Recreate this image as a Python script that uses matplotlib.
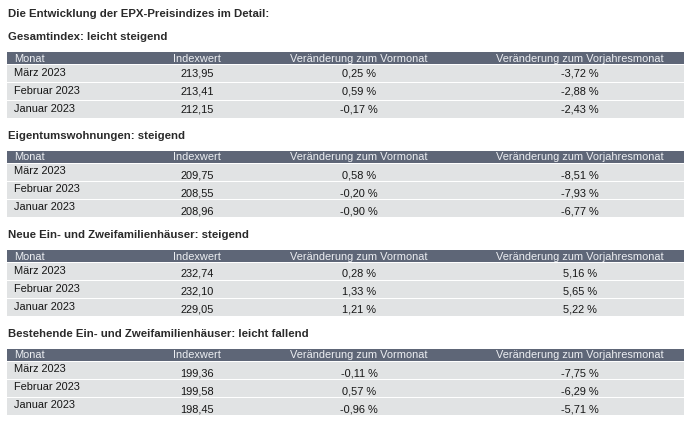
import matplotlib
matplotlib.use('Agg')
import matplotlib.pyplot as plt
from matplotlib.patches import Rectangle

plt.rcParams['font.family'] = ['Liberation Sans', 'DejaVu Sans']

TITLE = 'Die Entwicklung der EPX-Preisindizes im Detail:'
columns = ['Monat', 'Indexwert', 'Veränderung zum Vormonat', 'Veränderung zum Vorjahresmonat']
months = ['März 2023', 'Februar 2023', 'Januar 2023']

section_titles = [
    'Gesamtindex: leicht steigend',
    'Eigentumswohnungen: steigend',
    'Neue Ein- und Zweifamilienhäuser: steigend',
    'Bestehende Ein- und Zweifamilienhäuser: leicht fallend',
]
index_values = [
    ['213,95', '213,41', '212,15'],
    ['209,75', '208,55', '208,96'],
    ['232,74', '232,10', '229,05'],
    ['199,36', '199,58', '198,45'],
]
mom_change = [
    ['0,25 %', '0,59 %', '-0,17 %'],
    ['0,58 %', '-0,20 %', '-0,90 %'],
    ['0,28 %', '1,33 %', '1,21 %'],
    ['-0,11 %', '0,57 %', '-0,96 %'],
]
yoy_change = [
    ['-3,72 %', '-2,88 %', '-2,43 %'],
    ['-8,51 %', '-7,93 %', '-6,77 %'],
    ['5,16 %', '5,65 %', '5,22 %'],
    ['-7,75 %', '-6,29 %', '-5,71 %'],
]

W, H = 693, 429
HEAD_BG = '#5e6677'
ROW_BG = '#e1e3e4'
TXT = '#161616'

fig = plt.figure(figsize=(W / 100, H / 100), dpi=100)
ax = fig.add_axes([0, 0, 1, 1])
ax.set_xlim(0, W)
ax.set_ylim(H, 0)
ax.axis('off')

x0, x1 = 7, 684
col_x = [14, 197, 359, 580]
fs_b = 8.2
fs = 7.9

ax.text(8, 14, TITLE, fontsize=fs_b, fontweight='bold', color='#2a2a2a', va='center')

top0 = 37
block_h = 99
for k, name in enumerate(section_titles):
    y = top0 + k * block_h
    ax.text(8, y, name, fontsize=fs_b, fontweight='bold', color='#2a2a2a', va='center')
    hy = y + 15
    ax.add_patch(Rectangle((x0, hy), x1 - x0, 12, color=HEAD_BG, lw=0))
    for j, c in enumerate(columns):
        ax.text(col_x[j], hy + 6.5, c, fontsize=fs, color='#eceef2', va='center',
                ha='left' if j == 0 else 'center')
    ry = hy + 12
    for i in range(3):
        ax.add_patch(Rectangle((x0, ry + 1), x1 - x0, 17, color=ROW_BG, lw=0))
        off = 0 if k == 0 else 2.5
        ax.text(col_x[0], ry + 9.5 - (0 if k == 0 else 1), months[i], fontsize=fs,
                color=TXT, va='center')
        ax.text(col_x[1], ry + 9.5 + off, index_values[k][i], fontsize=fs, color=TXT,
                va='center', ha='center')
        ax.text(col_x[2], ry + 9.5 + off, mom_change[k][i], fontsize=fs, color=TXT,
                va='center', ha='center')
        ax.text(col_x[3], ry + 9.5 + off, yoy_change[k][i], fontsize=fs, color=TXT,
                va='center', ha='center')
        ry += 18

fig.savefig('out.png', dpi=100, facecolor='white')
